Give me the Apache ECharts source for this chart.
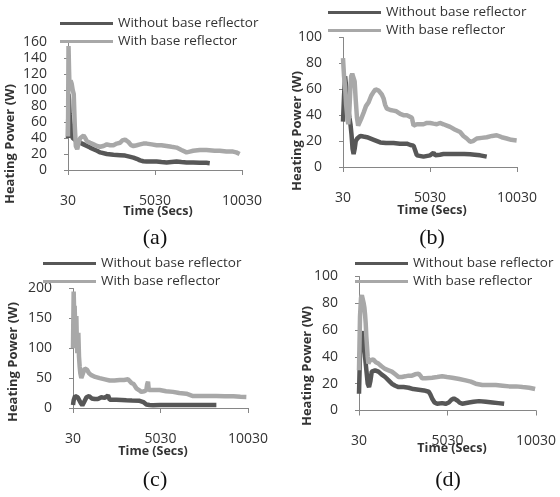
<!DOCTYPE html>
<html lang="en">
<head>
    <meta charset="UTF-8">
    <title>index</title>
    <script src="https://cdn.jsdelivr.net/npm/echarts@6/dist/echarts.min.js"></script>
    <style>
        html, body { margin: 0; padding: 0; background: #fff; }
        #chart { width: 560px; height: 497px; }
    </style>
</head>
<body>
<div id="chart"></div>
<script>
    // series names + x ticks
    var seriesNames = ['Without base reflector', 'With base reflector'];
    var timeTicks = [30, 5030, 10030];

    // (a)
    var timeWithA = [30, 60, 90, 120, 180, 240, 300, 360, 420, 480, 560, 640, 736, 830, 927, 1020, 1118, 1300, 1500, 1700, 1881, 2070, 2262, 2450, 2644, 2830, 3026, 3150, 3312, 3503, 3650, 3789, 3980, 4170, 4360, 4552, 4840, 5124, 5400, 5697, 5980, 6269, 6550, 6842, 7030, 7223, 7605, 7987, 8460, 8750, 9130, 9513, 9700, 9895];
    var withA = [42, 155, 125, 100, 112, 108, 100, 95, 55, 30, 26, 34, 40, 42, 43, 40, 36, 34, 32, 30, 29, 30, 32, 31, 31, 33, 34, 37, 38, 35, 31, 30, 31, 32, 33, 33, 32, 31, 31, 30, 29, 28, 25, 22, 23, 24, 25, 25, 24, 24, 23, 23, 22, 20];
    var timeWithoutA = [30, 60, 90, 120, 180, 240, 300, 360, 480, 640, 736, 927, 1118, 1300, 1500, 1700, 1881, 2262, 2644, 3026, 3312, 3503, 3789, 3980, 4170, 4360, 4552, 4840, 5124, 5400, 5697, 5980, 6269, 6550, 6842, 7223, 7605, 7987, 8177];
    var withoutA = [40, 95, 88, 70, 58, 46, 40, 40, 37, 35, 34, 32, 30, 28, 26, 24, 22, 20, 19, 18.5, 18, 17, 15.5, 14, 12, 11, 10.5, 10.5, 10.5, 10, 9.5, 10, 10.5, 10, 9.5, 9.5, 9, 9, 8.5];

    // (b)
    var timeWithB = [30, 90, 150, 210, 270, 330, 390, 450, 500, 560, 640, 700, 760, 833, 900, 967, 1100, 1215, 1350, 1502, 1650, 1789, 1900, 1980, 2080, 2171, 2260, 2362, 2450, 2554, 2750, 2936, 3100, 3319, 3500, 3701, 3850, 3988, 4084, 4180, 4275, 4450, 4657, 4850, 5040, 5230, 5422, 5600, 5804, 6000, 6187, 6450, 6760, 6950, 7143, 7334, 7500, 7716, 8000, 8290, 8600, 8863, 9150, 9437, 9700, 10010];
    var withB = [84, 70, 62, 48, 40, 33, 42, 60, 70, 72, 71, 66, 52, 38, 32, 33, 38, 42, 47, 50, 55, 58, 60, 60, 59, 58, 56, 53, 48, 45, 44, 43.5, 43, 41, 40, 40, 39, 38, 32, 31, 33, 33, 33, 34, 34, 33.5, 33, 34, 33, 32, 31, 29, 27, 24, 22, 19.5, 20, 22, 22.5, 23, 24, 24.5, 23, 22, 21, 20.5];
    var timeWithoutB = [30, 90, 150, 210, 270, 330, 400, 460, 520, 580, 640, 700, 760, 850, 1024, 1200, 1407, 1800, 2171, 2500, 2936, 3300, 3701, 3900, 4084, 4200, 4275, 4657, 5040, 5231, 5330, 5422, 5600, 5804, 6200, 6569, 7000, 7334, 7600, 7907, 8290];
    var withoutB = [35, 55, 70, 62, 54, 45, 38, 33, 25, 14, 10, 14, 20, 22, 24, 23.5, 23, 21, 19, 18.5, 18.5, 18, 18, 17, 16.5, 12, 9, 8, 9, 11, 9, 8.5, 9.5, 10, 10, 10, 10, 9.8, 9.5, 9, 8];

    // (c)
    var timeWithC = [30, 68, 95, 125, 155, 182, 221, 250, 278, 305, 335, 373, 410, 449, 506, 600, 697, 830, 950, 1078, 1300, 1554, 1850, 2126, 2400, 2697, 2950, 3173, 3364, 3500, 3650, 3800, 3935, 4100, 4221, 4270, 4316, 4360, 4412, 4700, 4983, 5350, 5745, 6100, 6507, 6888, 7300, 7800, 8222, 8700, 9200, 9600, 9936];
    var withC = [100, 195, 160, 171, 130, 148, 154, 110, 92, 120, 126, 86, 70, 58, 50, 58, 66, 64, 58, 55, 52, 50, 48, 46, 46, 47, 47, 48, 42, 40, 33, 30, 27, 28, 30, 40, 44, 30, 30, 30, 30, 28, 27, 25, 24, 20, 20, 20, 20, 19.5, 19.5, 19, 18.6];
    var timeWithoutC = [30, 68, 150, 220, 300, 411, 480, 563, 630, 697, 800, 887, 950, 1021, 1100, 1173, 1270, 1364, 1450, 1554, 1650, 1745, 1840, 1935, 2030, 2080, 2126, 2300, 2507, 2800, 3078, 3400, 3840, 4050, 4221, 4400, 4602, 5000, 5364, 5800, 6317, 6800, 7269, 7700, 8222];
    var withoutC = [5, 13, 20, 21, 18, 16, 8, 4.5, 8, 10, 18, 21, 20, 19, 16, 13, 15, 16, 15, 16, 18, 19, 17, 16, 21, 18, 14, 14, 14, 13.5, 13, 12.5, 12, 10, 6, 5, 4.5, 5, 5, 5, 5, 5, 5, 5, 5];

    // (d)
    var timeWithD = [30, 87, 144, 190, 238, 295, 333, 370, 409, 445, 485, 520, 560, 610, 655, 750, 844, 980, 1128, 1300, 1507, 1700, 1886, 2080, 2265, 2450, 2644, 2830, 3023, 3200, 3401, 3500, 3591, 3800, 4159, 4450, 4727, 5000, 5295, 5700, 6053, 6350, 6621, 7000, 7400, 7757, 8150, 8515, 8900, 9273, 9650, 9980];
    var withD = [30, 70, 84, 86, 85, 80, 77, 72, 65, 55, 47, 40, 35, 36, 37.5, 38, 38, 36, 35, 33, 31, 30, 29, 27, 25, 25, 25.5, 26, 26, 27, 27.5, 26, 24, 24, 24.5, 25, 25.5, 25, 24.5, 23.5, 22.5, 21.5, 20, 19, 19, 19, 18.5, 18, 18, 17.5, 17, 16];
    var timeWithoutD = [30, 87, 144, 190, 238, 295, 371, 447, 522, 598, 674, 750, 850, 939, 1030, 1128, 1300, 1507, 1700, 1886, 2080, 2265, 2550, 2833, 3100, 3401, 3700, 3970, 4060, 4159, 4300, 4443, 4727, 4920, 5106, 5250, 5390, 5480, 5579, 5700, 5863, 6242, 6500, 6811, 7200, 7568, 7900, 8231];
    var withoutD = [12.5, 42, 52, 57, 59, 55, 40, 30, 20, 17.5, 22, 29, 30, 30, 29.5, 29, 27, 25, 22.5, 20, 18.5, 17.5, 17.5, 17, 16, 15.5, 15, 14, 12, 9, 6, 5, 5.5, 5, 6, 8, 9, 8.5, 7.5, 6, 5, 6, 6.5, 7, 6.5, 6, 5.5, 5];

    var darkColor = '#575757';
    var lightColor = '#a8a8a8';
    var axisColor = '#868686';
    var textColor = '#333';

    // layout of each panel (pixels)
    var panels = [
        { grid: {left: 68, top: 42, width: 174, height: 128}, yMax: 160, yStep: 20,
          tw: timeWithA, w: withA, two: timeWithoutA, wo: withoutA,
          legend: [60, 16], yTitle: [10, 144], xTitle: [158, 211], cap: ['(a)', 155, 238] },
        { grid: {left: 343, top: 37.5, width: 174, height: 129.5}, yMax: 100, yStep: 20,
          tw: timeWithB, w: withB, two: timeWithoutB, wo: withoutB,
          legend: [328, 5], yTitle: [297, 131], xTitle: [432, 210], cap: ['(b)', 432, 238] },
        { grid: {left: 73, top: 288.5, width: 175, height: 119.5}, yMax: 200, yStep: 50,
          tw: timeWithC, w: withC, two: timeWithoutC, wo: withoutC,
          legend: [43, 256], yTitle: [13, 362], xTitle: [153, 451], cap: ['(c)', 155, 480] },
        { grid: {left: 359, top: 276.5, width: 177, height: 134}, yMax: 100, yStep: 20,
          tw: timeWithD, w: withD, two: timeWithoutD, wo: withoutD,
          legend: [355, 256], yTitle: [307, 366], xTitle: [452, 448], cap: ['(d)', 448, 480] }
    ];

    function zip(t, v) {
        var out = [];
        for (var i = 0; i < v.length; i++) out.push([t[i], v[i]]);
        return out;
    }

    var option = {
        animation: false,
        backgroundColor: '#fff',
        grid: [], xAxis: [], yAxis: [], series: [], legend: [], graphic: []
    };

    panels.forEach(function (p, i) {
        option.grid.push(p.grid);
        option.xAxis.push({
            type: 'value', gridIndex: i, min: 30, max: 10030,
            axisLine: { lineStyle: { color: axisColor, width: 1 } },
            axisTick: { customValues: timeTicks, length: 5, lineStyle: { color: axisColor } },
            axisLabel: { customValues: timeTicks, margin: 24, color: textColor,
                         fontFamily: 'Open Sans', fontSize: 14,
                         formatter: function (v) { return String(v); } },
            splitLine: { show: false }
        });
        option.yAxis.push({
            type: 'value', gridIndex: i, min: 0, max: p.yMax, interval: p.yStep,
            axisLine: { show: true, lineStyle: { color: axisColor, width: 1 } },
            axisTick: { show: true, length: 4, lineStyle: { color: axisColor } },
            axisLabel: { margin: 21, color: textColor, fontFamily: 'Open Sans', fontSize: 14 },
            splitLine: { show: false }
        });
        option.series.push({
            name: seriesNames[0], type: 'line', xAxisIndex: i, yAxisIndex: i,
            data: zip(p.two, p.wo), showSymbol: false, symbol: 'none',
            lineStyle: { color: darkColor, width: 4.5 }, itemStyle: { color: darkColor }
        });
        option.series.push({
            name: seriesNames[1], type: 'line', xAxisIndex: i, yAxisIndex: i,
            data: zip(p.tw, p.w), showSymbol: false, symbol: 'none',
            lineStyle: { color: lightColor, width: 4.5 }, itemStyle: { color: lightColor }
        });
        option.legend.push({
            data: seriesNames, orient: 'vertical', left: p.legend[0], top: p.legend[1],
            padding: 0, icon: 'rect', itemWidth: 53, itemHeight: 3, itemGap: 3,
            textStyle: { color: textColor, fontFamily: 'Open Sans', fontSize: 13.5, lineHeight: 15 }
        });
        option.graphic.push({
            type: 'text', x: p.yTitle[0], y: p.yTitle[1], rotation: Math.PI / 2,
            style: { text: 'Heating Power (W)', align: 'center', verticalAlign: 'middle',
                     fill: textColor, font: 'bold 13px "Open Sans"' }
        });
        option.graphic.push({
            type: 'text', x: p.xTitle[0], y: p.xTitle[1],
            style: { text: 'Time (Secs)', align: 'center', verticalAlign: 'middle',
                     fill: textColor, font: 'bold 12.5px "Open Sans"' }
        });
        option.graphic.push({
            type: 'text', x: p.cap[1], y: p.cap[2],
            style: { text: p.cap[0], align: 'center', verticalAlign: 'middle',
                     fill: '#111', font: '22px "Liberation Serif"' }
        });
    });

    var chart = echarts.init(document.getElementById('chart'));
    chart.setOption(option);
</script>
</body>
</html>
